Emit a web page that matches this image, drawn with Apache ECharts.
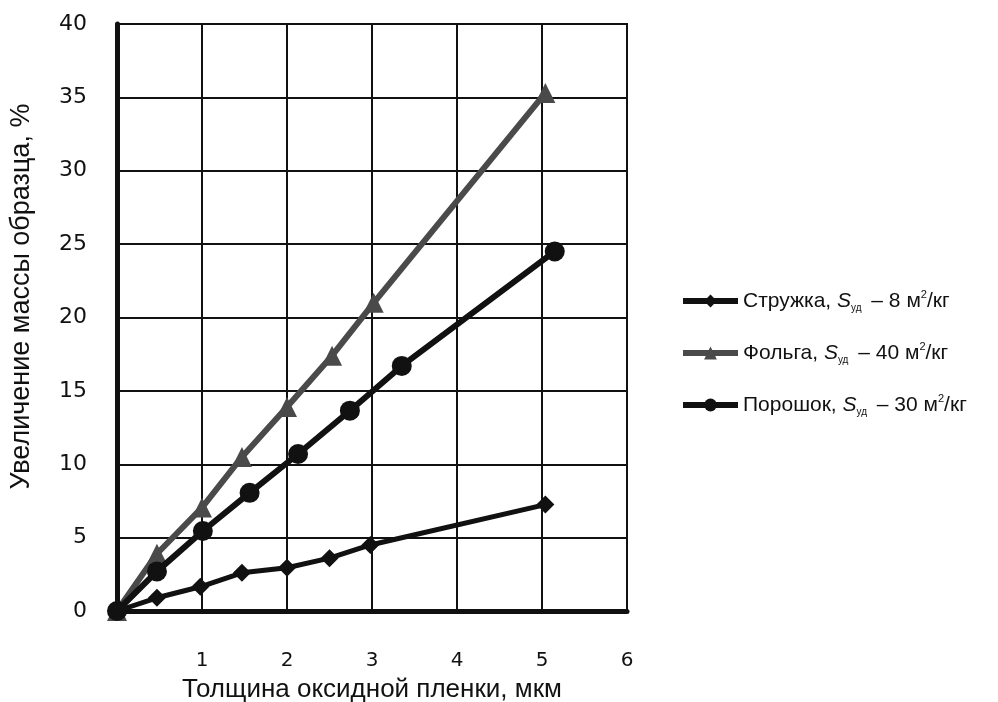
<!DOCTYPE html>
<html>
<head>
	<meta charset="utf-8">
	<title>Увеличение массы образца</title>
	<script src="https://cdn.jsdelivr.net/npm/echarts@6/dist/echarts.min.js"></script>
</head>
<body style="margin:0">
	<div id="main" style="width: 998px; height: 702px;"></div>
	<script type="text/javascript">
		//подписи серий
		var seriesNames = ['Стружка', 'Фольга', 'Порошок'];
		var seriesArea = ['8', '40', '30'];
		//Стружка
		var chipX = [0, 0.47, 0.98, 1.47, 2.0, 2.5, 2.98, 5.04];
		var chipY = [0, 0.9, 1.65, 2.6, 2.95, 3.6, 4.5, 7.25];
		//Фольга
		var foilX = [0, 0.47, 1.0, 1.47, 2.0, 2.53, 3.02, 5.04];
		var foilY = [0, 3.9, 7.05, 10.5, 13.9, 17.4, 21.0, 35.3];
		//Порошок
		var powderX = [0, 0.47, 1.01, 1.56, 2.13, 2.74, 3.35, 5.15];
		var powderY = [0, 2.7, 5.45, 8.05, 10.7, 13.65, 16.7, 24.5];

		var pairs = function (xs, ys) {
			var res = [];
			for (var i = 0; i < xs.length; i++) {
				res.push([xs[i], ys[i]]);
			}
			return res;
		};

		var chart = echarts.init(document.getElementById('main'));

		var option = {
			backgroundColor: '#fff',
			animation: false,
			grid: {
				left: 117,
				right: 371,
				top: 24,
				bottom: 91,
				outerBoundsMode: 'none',
				show: true,
				borderColor: '#111',
				borderWidth: 2
			},
			legend: {
				orient: 'vertical',
				left: 680,
				top: 289,
				padding: 0,
				itemWidth: 55,
				itemHeight: 16,
				itemGap: 28,
				data: seriesNames,
				lineStyle: { width: 6 },
				formatter: function (name) {
					var i = seriesNames.indexOf(name);
					return name + ', {i|S}{sub|уд} – ' + seriesArea[i] + ' м{sup|2}/кг';
				},
				textStyle: {
					color: '#111',
					fontFamily: 'Liberation Sans',
					fontSize: 21,
					lineHeight: 24,
					rich: {
						i: { fontStyle: 'italic', fontSize: 21, fontFamily: 'Liberation Sans', color: '#111', lineHeight: 24 },
						sub: { fontSize: 10, verticalAlign: 'bottom', fontFamily: 'Liberation Sans', color: '#111', lineHeight: 24, padding: [0, 4, 0, 0] },
						sup: { fontSize: 11, verticalAlign: 'top', fontFamily: 'Liberation Sans', color: '#111', lineHeight: 24 }
					}
				}
			},
			xAxis: {
				type: 'value',
				min: 0,
				max: 6,
				interval: 1,
				name: 'Толщина оксидной пленки, мкм',
				nameLocation: 'middle',
				nameGap: 66,
				nameTextStyle: {
					color: '#111',
					fontFamily: 'Liberation Sans',
					fontSize: 26
				},
				axisLine: { lineStyle: { color: '#111', width: 5 } },
				axisTick: { show: false },
				axisLabel: {
					margin: 40,
					color: '#111',
					fontFamily: 'DejaVu Sans',
					fontSize: 20,
					formatter: function (v) { return v === 0 ? '' : v; }
				},
				splitLine: { lineStyle: { color: '#111', width: 2 } }
			},
			yAxis: {
				type: 'value',
				min: 0,
				max: 40,
				interval: 5,
				name: 'Увеличение массы образца, %',
				nameLocation: 'middle',
				nameGap: 82,
				nameTextStyle: {
					color: '#111',
					fontFamily: 'Liberation Sans',
					fontSize: 27,
					padding: [0, 0, 0, 42]
				},
				axisLine: { lineStyle: { color: '#111', width: 5 } },
				axisTick: { show: false },
				axisLabel: {
					margin: 30,
					color: '#111',
					fontFamily: 'DejaVu Sans',
					fontSize: 22
				},
				splitLine: { lineStyle: { color: '#111', width: 2 } }
			},
			series: [{
				name: seriesNames[0],
				type: 'line',
				data: pairs(chipX, chipY),
				symbol: 'diamond',
				symbolSize: 18,
				lineStyle: { color: '#111', width: 5 },
				itemStyle: { color: '#111' },
				z: 3
			}, {
				name: seriesNames[1],
				type: 'line',
				data: pairs(foilX, foilY),
				symbol: 'triangle',
				symbolSize: 20,
				lineStyle: { color: '#4a4a4a', width: 6 },
				itemStyle: { color: '#4a4a4a' },
				z: 2
			}, {
				name: seriesNames[2],
				type: 'line',
				data: pairs(powderX, powderY),
				symbol: 'circle',
				symbolSize: 20,
				lineStyle: { color: '#111', width: 6 },
				itemStyle: { color: '#111' },
				z: 4
			}]
		};
		chart.setOption(option);
	</script>
</body>
</html>
